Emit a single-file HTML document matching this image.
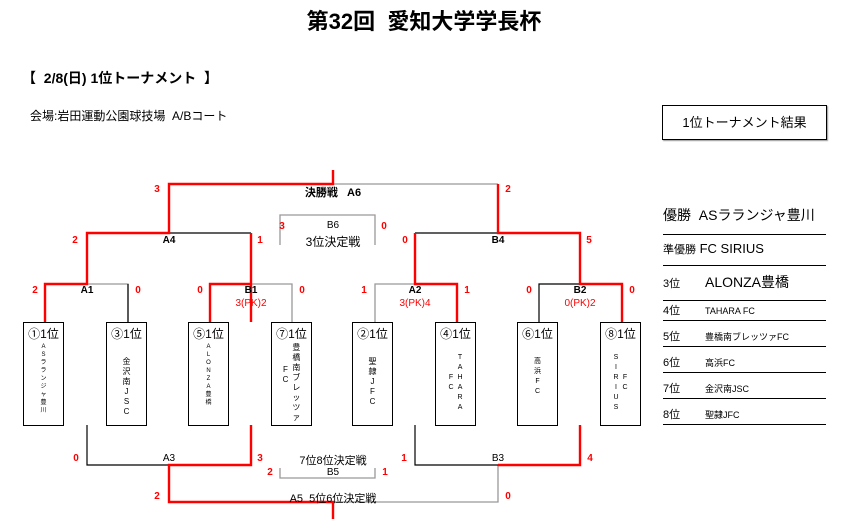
<!DOCTYPE html>
<html><head><meta charset="utf-8"><style>
body{margin:0;background:#fff;}
#c{position:relative;width:848px;height:529px;overflow:hidden;font-family:"Liberation Sans","Noto Sans CJK JP",sans-serif;color:#000;}
.t{position:absolute;white-space:nowrap;}
.r{color:#f00;}
.s{font-size:10px;font-weight:bold;transform:translateX(-50%);}
.box{position:absolute;top:322px;width:39px;height:102px;border:1.5px solid #000;background:#fff;}
.hd{position:absolute;top:2px;left:0;width:100%;text-align:center;font-size:12px;}
.v{position:absolute;top:20px;left:0;width:100%;display:flex;justify-content:center;font-size:6px;line-height:8px;text-align:center;}
.v div{display:flex;flex-direction:column;align-items:center;margin:0 2px;}
.row{position:absolute;left:663px;width:163px;border-bottom:1px solid #000;}
</style></head><body><div id="c">
<svg width="848" height="529" style="position:absolute;left:0;top:0" fill="none">
<g stroke="#999" stroke-width="1.3">
<path d="M87 284H128V322M251 284H292V322M375 322V284H415M333 184H498M280 245V215H375V245M333 502H498V465M280 468V478H375V468"/>
</g>
<g stroke="#000" stroke-width="1.2">
<path d="M128 284V322M169 233H251M415 233H498M539 322V284H580M87 425V465H169M415 425V465H498"/>
</g>
<g stroke="#f00" stroke-width="2.4">
<path d="M45 322V284H87V233H169V184H333V170M251 322V233M210 322V284H251M498 184V233H580V284H622V322M415 233V284H457V322M251 425V465H169V502H333V519M580 425V465H498"/>
</g>
</svg>
<div class="t" style="left:0;width:848px;text-align:center;top:4px;font-size:22px;font-weight:bold;">第32回&nbsp; 愛知大学学長杯</div>
<div class="t" style="left:22px;top:68px;font-size:14px;font-weight:bold;">【&nbsp; 2/8(日) 1位トーナメント &nbsp;】</div>
<div class="t" style="left:30px;top:107px;font-size:12px;">会場:岩田運動公園球技場&nbsp; A/Bコート</div>
<div class="t" style="left:662px;top:105px;width:163px;height:33px;border:1px solid #000;box-shadow:1px 1px 1px #999;font-size:13px;text-align:center;line-height:33px;">1位トーナメント結果</div>

<div class="t s r" style="left:157px;top:184px">3</div>
<div class="t s r" style="left:508px;top:184px">2</div>
<div class="t" style="left:333px;top:184px;font-size:11px;font-weight:bold;transform:translateX(-50%)">決勝戦&nbsp;&nbsp; A6</div>
<div class="t s r" style="left:282px;top:221px">3</div>
<div class="t s r" style="left:384px;top:221px">0</div>
<div class="t s" style="left:333px;top:220px;font-weight:normal">B6</div>
<div class="t" style="left:333px;top:233px;font-size:12px;transform:translateX(-50%)">3位決定戦</div>
<div class="t s r" style="left:75px;top:235px">2</div>
<div class="t s r" style="left:260px;top:235px">1</div>
<div class="t s r" style="left:405px;top:235px">0</div>
<div class="t s r" style="left:589px;top:235px">5</div>
<div class="t s" style="left:169px;top:235px">A4</div>
<div class="t s" style="left:498px;top:235px">B4</div>

<div class="t s r" style="left:35px;top:285px">2</div>
<div class="t s r" style="left:138px;top:285px">0</div>
<div class="t s r" style="left:200px;top:285px">0</div>
<div class="t s r" style="left:302px;top:285px">0</div>
<div class="t s r" style="left:364px;top:285px">1</div>
<div class="t s r" style="left:467px;top:285px">1</div>
<div class="t s r" style="left:529px;top:285px">0</div>
<div class="t s r" style="left:632px;top:285px">0</div>
<div class="t s" style="left:87px;top:285px">A1</div>
<div class="t s" style="left:251px;top:285px">B1</div>
<div class="t s" style="left:415px;top:285px">A2</div>
<div class="t s" style="left:580px;top:285px">B2</div>
<div class="t s r" style="left:251px;top:298px;font-weight:normal">3(PK)2</div>
<div class="t s r" style="left:415px;top:298px;font-weight:normal">3(PK)4</div>
<div class="t s r" style="left:580px;top:298px;font-weight:normal">0(PK)2</div>

<div class="box" style="left:23px"><div class="hd">①1位</div><div class="v"><div><span>A</span><span>S</span><span>ラ</span><span>ラ</span><span>ン</span><span>ジ</span><span>ャ</span><span>豊</span><span>川</span></div></div></div>
<div class="box" style="left:106px"><div class="hd">③1位</div><div class="v" style="top:34px;font-size:8px;line-height:10px"><div><span>金</span><span>沢</span><span>南</span><span>J</span><span>S</span><span>C</span></div></div></div>
<div class="box" style="left:188px"><div class="hd">⑤1位</div><div class="v"><div><span>A</span><span>L</span><span>O</span><span>N</span><span>Z</span><span>A</span><span>豊</span><span>橋</span></div></div></div>
<div class="box" style="left:271px"><div class="hd">⑦1位</div><div class="v" style="font-size:8px;line-height:10px"><div style="margin-top:22px"><span>F</span><span>C</span></div><div><span>豊</span><span>橋</span><span>南</span><span>ブ</span><span>レ</span><span>ッ</span><span>ツ</span><span>ァ</span></div></div></div>
<div class="box" style="left:352px"><div class="hd">②1位</div><div class="v" style="top:34px;font-size:8px;line-height:10px"><div><span>聖</span><span>隷</span><span>J</span><span>F</span><span>C</span></div></div></div>
<div class="box" style="left:435px"><div class="hd">④1位</div><div class="v" style="top:30px;font-size:7px;line-height:10px"><div style="margin-top:20px"><span>F</span><span>C</span></div><div><span>T</span><span>A</span><span>H</span><span>A</span><span>R</span><span>A</span></div></div></div>
<div class="box" style="left:517px"><div class="hd">⑥1位</div><div class="v" style="top:34px;font-size:7px;line-height:10px"><div><span>高</span><span>浜</span><span>F</span><span>C</span></div></div></div>
<div class="box" style="left:600px"><div class="hd">⑧1位</div><div class="v" style="top:30px;font-size:7px;line-height:10px"><div><span>S</span><span>I</span><span>R</span><span>I</span><span>U</span><span>S</span></div><div style="margin-top:20px"><span>F</span><span>C</span></div></div></div>

<div class="t s r" style="left:76px;top:453px">0</div>
<div class="t s" style="left:169px;top:453px;font-weight:normal">A3</div>
<div class="t s r" style="left:260px;top:453px">3</div>
<div class="t s r" style="left:404px;top:453px">1</div>
<div class="t s" style="left:498px;top:453px;font-weight:normal">B3</div>
<div class="t s r" style="left:590px;top:453px">4</div>
<div class="t" style="left:333px;top:452px;font-size:11px;transform:translateX(-50%)">7位8位決定戦</div>
<div class="t s" style="left:333px;top:467px;font-weight:normal">B5</div>
<div class="t s r" style="left:270px;top:467px">2</div>
<div class="t s r" style="left:385px;top:467px">1</div>
<div class="t s r" style="left:157px;top:491px">2</div>
<div class="t s r" style="left:508px;top:491px">0</div>
<div class="t" style="left:333px;top:490px;font-size:11px;transform:translateX(-50%)">A5&nbsp; 5位6位決定戦</div>

<div class="row" style="top:205px;height:29px;font-size:14px;">優勝&nbsp; ASラランジャ豊川</div>
<div class="row" style="top:241px;height:24px;font-size:13px;"><span style="font-size:11px">準優勝</span> FC SIRIUS</div>
<div class="row" style="top:272px;height:28px;font-size:14px;"><span style="font-size:11px;display:inline-block;width:42px">3位</span>ALONZA豊橋</div>
<div class="row" style="top:302px;height:18px;font-size:9px;"><span style="font-size:11px;display:inline-block;width:42px">4位</span>TAHARA FC</div>
<div class="row" style="top:328px;height:18px;font-size:9px;"><span style="font-size:11px;display:inline-block;width:42px">5位</span>豊橋南ブレッツァFC</div>
<div class="row" style="top:354px;height:18px;font-size:9px;"><span style="font-size:11px;display:inline-block;width:42px">6位</span>高浜FC</div>
<div class="row" style="top:380px;height:18px;font-size:9px;"><span style="font-size:11px;display:inline-block;width:42px">7位</span>金沢南JSC</div>
<div class="row" style="top:406px;height:18px;font-size:9px;"><span style="font-size:11px;display:inline-block;width:42px">8位</span>聖隷JFC</div>
</div></body></html>
